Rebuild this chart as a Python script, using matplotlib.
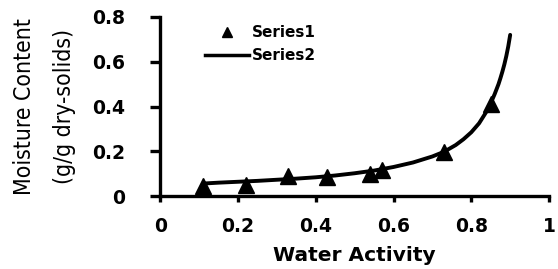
import matplotlib.pyplot as plt
from matplotlib.lines import Line2D

# measured points (Series1)
aw_meas = [0.11, 0.22, 0.33, 0.43, 0.54, 0.57, 0.73, 0.85]
mc_meas = [0.045, 0.050, 0.090, 0.085, 0.100, 0.115, 0.195, 0.410]

# fitted curve (Series2)
aw_fit = [0.11, 0.15, 0.20, 0.25, 0.30, 0.35, 0.40, 0.45, 0.50, 0.55, 0.60,
          0.65, 0.70, 0.73, 0.76, 0.78, 0.80, 0.82, 0.84, 0.85, 0.86,
          0.87, 0.875, 0.88, 0.885, 0.89, 0.895, 0.90]
mc_fit = [0.056, 0.060, 0.064, 0.068, 0.073, 0.078, 0.084, 0.092, 0.102, 0.114, 0.130,
          0.150, 0.177, 0.198, 0.228, 0.254, 0.285, 0.325, 0.380, 0.415, 0.455,
          0.500, 0.527, 0.556, 0.588, 0.625, 0.668, 0.720]

fig = plt.figure(figsize=(5.58, 2.69), dpi=100)
ax = fig.add_axes([0.287, 0.271, 0.697, 0.666])

ax.plot(aw_fit, mc_fit, color='black', lw=2.8, solid_capstyle='round', zorder=2)
ax.plot(aw_meas, mc_meas, '^', color='black', ms=11.5, zorder=3)

ax.set_xlim(0, 1)
ax.set_ylim(0, 0.8)
ax.set_xticks([0, 0.2, 0.4, 0.6, 0.8, 1])
ax.set_xticklabels(['0', '0.2', '0.4', '0.6', '0.8', '1'])
ax.set_yticks([0, 0.2, 0.4, 0.6, 0.8])
ax.set_yticklabels(['0', '0.2', '0.4', '0.6', '0.8'])

for s in ['top', 'right']:
    ax.spines[s].set_visible(False)
for s in ['left', 'bottom']:
    ax.spines[s].set_linewidth(2.4)

ax.tick_params(axis='y', direction='out', length=7, width=2.4, pad=18)
ax.tick_params(axis='x', direction='out', length=4, width=2.4, pad=11)
for lab in ax.get_xticklabels() + ax.get_yticklabels():
    lab.set_fontweight('bold')
    lab.set_fontsize(13.5)

ax.set_xlabel('Water Activity', fontsize=14.5, fontweight='bold', labelpad=7)
ax.set_ylabel('Moisture Content\n(g/g dry-solids)', fontstretch='condensed',
              fontsize=16.5, linespacing=1.95, labelpad=12)

handles = [Line2D([], [], ls='none', marker='^', color='black', ms=7),
           Line2D([], [], color='black', lw=2.5)]
ax.legend(handles, ['Series1', 'Series2'], loc='upper left',
          bbox_to_anchor=(0.1, 0.99), frameon=False, handlelength=2.9,
          handletextpad=0.15, labelspacing=0.55, borderaxespad=0,
          prop={'weight': 'bold', 'size': 11})

fig.savefig('out.png', dpi=100)
